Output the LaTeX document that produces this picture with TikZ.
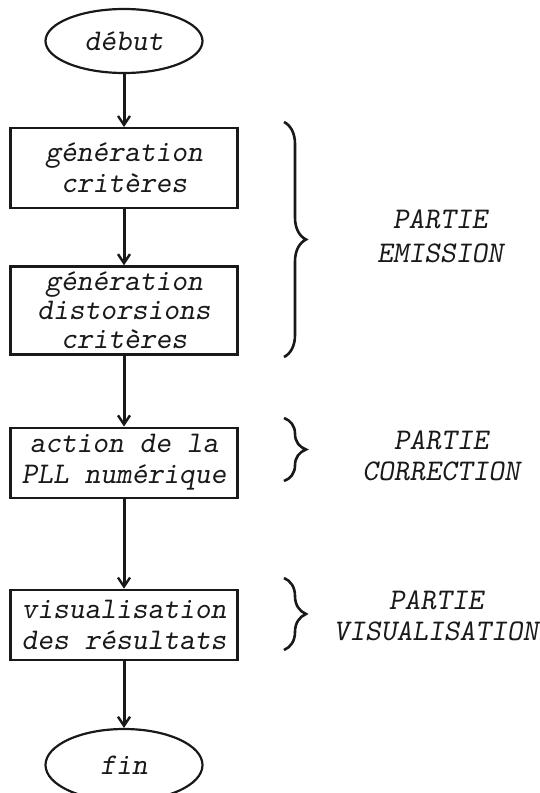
\documentclass[tikz,border=0pt]{standalone}
\usepackage{fontspec}
\usetikzlibrary{positioning,arrows.meta,shapes.geometric,decorations.pathreplacing}
\definecolor{ink}{RGB}{25,25,25}
\newcommand\typefont[1]{\ttfamily\slshape\fontsize{30}{#1}\selectfont\addfontfeature{FakeBold=1.2}}
\tikzset{
  flowfont/.style={font=\typefont{31}, text=ink},
  box/.style={draw=ink, line width=2.2pt, align=center, inner sep=0pt, flowfont},
  stepbox/.style={box, minimum width=227pt, minimum height=72pt},
  endbox/.style={box, ellipse, minimum width=157pt, minimum height=64pt},
  flow/.style={-{Straight Barb[length=9pt,width=12pt,line width=2.4pt]}, draw=ink, line width=3pt},
  part/.style={draw=ink, line width=2.6pt, decorate,
               decoration={brace, amplitude=22pt, aspect=0.5}},
  lab/.style={align=center, flowfont, text depth=0pt},
}
\begin{document}
\begin{tikzpicture}[x=1pt, y=1pt]
  \useasboundingbox (0,0) rectangle (539,-793);

  \node[endbox] (start) at (124,-41) {début};
  \node[stepbox, minimum height=80pt, below=53pt of start] (crit) {génération\\critères};
  \node[stepbox, minimum height=88pt, below=56pt of crit, font=\typefont{29}] (dist)
    {génération\\distorsions\\critères};
  \node[stepbox, minimum height=70pt, below=71pt of dist] (pll) {action de la\\PLL numérique};
  \node[stepbox, minimum height=70pt, below=90pt of pll] (visu) {visualisation\\des résultats};
  \node[endbox, minimum height=72pt, below=67pt of visu] (stop) {fin};

  \foreach \a/\b in {start/crit, crit/dist, dist/pll, pll/visu, visu/stop}
    \draw[flow] (\a) -- (\b);

  % the three parts of the program
  \draw[part] (284,-122) -- (284,-357);
  \draw[part] (284,-418) -- (284,-481);
  \draw[part] (284,-578) -- (284,-650);

  \node[lab] (emi) at (440,-236) {PARTIE\\[3pt]EMISSION};
  \node[lab] (cor) at (441,-456) {PARTIE\\CORRECTION};
  \node[lab] (vis) at (436,-616) {PARTIE\\VISUALISATION};
\end{tikzpicture}
\end{document}
